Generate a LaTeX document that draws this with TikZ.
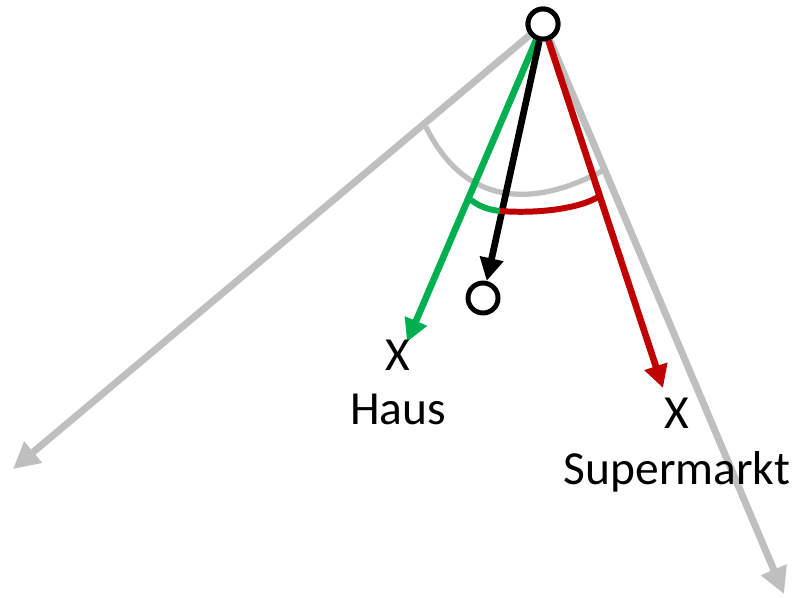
\documentclass[tikz,border=0pt]{standalone}
\usepackage{fontspec}
\setmainfont{Carlito}
\usepackage{tikz}
\usetikzlibrary{arrows.meta,positioning}
\definecolor{lightgrey}{RGB}{191,191,191}
\definecolor{officegreen}{RGB}{0,176,80}
\definecolor{officered}{RGB}{192,0,0}

\begin{document}
\begin{tikzpicture}[x=0.01cm, y=-0.01cm,
    spot/.style={circle, draw=black, line width=1.4pt, fill=white, minimum size=0.3cm, inner sep=0pt},
    ray/.style={line width=2pt, lightgrey, -{Triangle[length=7.5pt, width=7.5pt]}},
    vec/.style={line width=1.9pt, -{Triangle[length=6.5pt, width=6.5pt]}},
    lbl/.style={font=\fontsize{13.5}{16}\selectfont, inner sep=0pt}]
    \useasboundingbox (0,0) rectangle (795,597);

    % --- positions ---
    \node[spot] (start) at (543,24) {};
    \node[spot] (mid) at (483,298) {};
    \coordinate (leftEnd) at (13,469);
    \coordinate (rightEnd) at (784,594);
    \coordinate (hausTip) at (407,342);
    \coordinate (marktTip) at (663,388);

    % --- field of view (grey) ---
    \draw[ray] (start) -- (leftEnd);
    \draw[ray] (start) -- (rightEnd);
    \draw[line width=1.5pt, lightgrey] (426,127) .. controls (468,212) and (540,204) .. (602,171);

    % --- goal directions ---
    \draw[vec, officegreen] (start) -- (hausTip);
    \draw[vec, officered] (start) -- (marktTip);
    \draw[vec, black] (start) -- (mid);

    % Angle arcs
    \draw[line width=1.7pt, officegreen] (471,200) .. controls (480,207) and (490,210) .. (500,211);
    \draw[line width=1.7pt, officered] (500,211) .. controls (540,214) and (580,208) .. (598,197);

    % re-draw the start circle on top
    \node[spot] at (start) {};

    % --- labels ---
    \node[lbl] (hausX) at (398,355) {X};
    \node[lbl, below=0.22cm of hausX] (haus) {Haus};
    \node[lbl] (marktX) at (677,413) {X};
    \node[lbl, below=0.22cm of marktX] (markt) {Supermarkt};
\end{tikzpicture}
\end{document}
